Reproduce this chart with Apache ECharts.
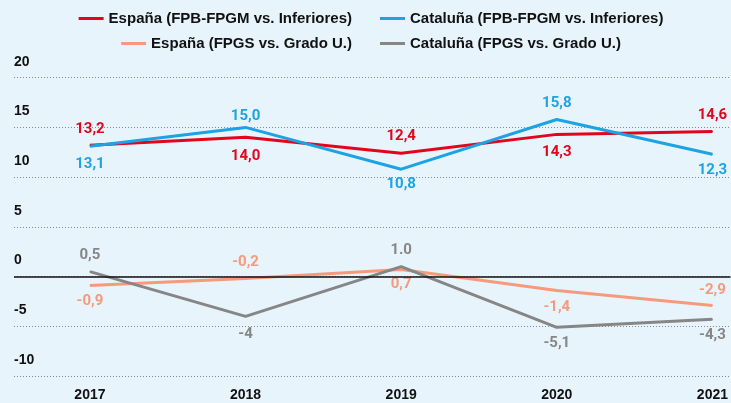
<!DOCTYPE html>
<html>
<head>
<meta charset="utf-8">
<script src="https://cdn.jsdelivr.net/npm/echarts@6/dist/echarts.min.js"></script>
<style>
  html, body { margin: 0; padding: 0; background: #E8F4FC; }
  #chart { width: 731px; height: 403px; }
</style>
</head>
<body>
<div id="chart"></div>
<script>
// Years on the horizontal axis
const years = [2017, 2018, 2019, 2020, 2021];

// Wage gap series (percentage points)
const espanaFPB = [13.2, 14.0, 12.4, 14.3, 14.6];
const catalunaFPB = [13.1, 15.0, 10.8, 15.8, 12.3];
const espanaFPGS = [-0.9, -0.2, 0.7, -1.4, -2.9];
const catalunaFPGS = [0.5, -4, 1.0, -5.1, -4.3];

// Printed value labels
const espanaFPBLabels = ['13,2', '14,0', '12,4', '14,3', '14,6'];
const catalunaFPBLabels = ['13,1', '15,0', '10,8', '15,8', '12,3'];
const espanaFPGSLabels = ['-0,9', '-0,2', '0,7', '-1,4', '-2,9'];
const catalunaFPGSLabels = ['0,5', '-4', '1.0', '-5,1', '-4,3'];

// Y axis ticks
const yTicks = [-10, -5, 0, 5, 10, 15, 20];

const seriesNames = [
  'España (FPB-FPGM vs. Inferiores)',
  'Cataluña (FPB-FPGM vs. Inferiores)',
  'España (FPGS vs. Grado U.)',
  'Cataluña (FPGS vs. Grado U.)'
];

const RED = '#E3051B';
const BLUE = '#1BA3E3';
const SALMON = '#F59A7B';
const GREY = '#868686';

function buildSeries(name, values, labels, color, places, distances) {
  return {
    name: name,
    type: 'line',
    symbol: 'circle',
    symbolSize: 1,
    showSymbol: true,
    lineStyle: { color: color, width: 3 },
    itemStyle: { color: color },
    z: 3,
    data: years.map((yr, i) => ({
      value: [yr, values[i]],
      label: {
        show: true,
        position: places[i],
        distance: distances[i],
        formatter: () => labels[i],
        color: color,
        fontFamily: 'Roboto',
        fontWeight: 'bold',
        fontSize: 15
      }
    }))
  };
}

const series = [
  buildSeries(seriesNames[0], espanaFPB, espanaFPBLabels, RED,
    ['top', 'bottom', 'top', 'bottom', 'top'], [8, 11, 9, 10, 8]),
  buildSeries(seriesNames[1], catalunaFPB, catalunaFPBLabels, BLUE,
    ['bottom', 'top', 'bottom', 'top', 'bottom'], [10, 3, 7, 8, 8]),
  buildSeries(seriesNames[2], espanaFPGS, espanaFPGSLabels, SALMON,
    ['bottom', 'top', 'bottom', 'bottom', 'top'], [8, 8, 7, 9, 7]),
  buildSeries(seriesNames[3], catalunaFPGS, catalunaFPGSLabels, GREY,
    ['top', 'bottom', 'top', 'bottom', 'bottom'], [8, 10, 8, 8, 8])
];

// Solid zero reference line across the plot
series[0].markLine = {
  silent: true,
  symbol: 'none',
  label: { show: false },
  lineStyle: { color: '#111', type: 'solid', width: 1.5 },
  data: [{ yAxis: 0 }]
};

const legendText = {
  fontFamily: '"Liberation Sans", Arial, sans-serif',
  fontWeight: 'bold',
  fontSize: 15,
  color: '#111'
};

function legendAt(name, color, pos) {
  return Object.assign({
    data: [{ name: name, itemStyle: { color: color } }],
    icon: 'rect',
    itemWidth: 25,
    itemHeight: 3,
    textStyle: legendText,
    padding: 0
  }, pos);
}

const chart = echarts.init(document.getElementById('chart'), null, { renderer: 'canvas' });

chart.setOption({
  backgroundColor: '#E8F4FC',
  animation: false,
  legend: [
    legendAt(seriesNames[0], RED, { right: 379, top: 11 }),
    legendAt(seriesNames[1], BLUE, { left: 380, top: 11 }),
    legendAt(seriesNames[2], SALMON, { right: 379, top: 36 }),
    legendAt(seriesNames[3], GREY, { left: 380, top: 36 })
  ],
  grid: { left: 14, right: 0, top: 77.7, bottom: 27, containLabel: false },
  xAxis: {
    type: 'value',
    min: 2016.512,
    max: 2021.116,
    axisLine: { show: false },
    axisTick: { show: false },
    splitLine: { show: false },
    axisLabel: {
      customValues: years,
      margin: 12,
      fontFamily: '"Liberation Sans", Arial, sans-serif',
      fontWeight: 'bold',
      fontSize: 14,
      color: '#111',
      formatter: v => String(v)
    }
  },
  yAxis: {
    type: 'value',
    min: yTicks[0],
    max: yTicks[yTicks.length - 1],
    interval: 5,
    axisLine: { show: false },
    axisTick: { show: false },
    axisLabel: {
      inside: true,
      margin: 0,
      align: 'left',
      verticalAlign: 'bottom',
      padding: [0, 0, 9, 0],
      fontFamily: '"Liberation Sans", Arial, sans-serif',
      fontWeight: 'bold',
      fontSize: 14,
      color: '#111'
    },
    splitLine: {
      show: true,
      lineStyle: { color: '#8a8a8a', type: [1, 2], width: 1 }
    }
  },
  series: series
});
</script>
</body>
</html>
